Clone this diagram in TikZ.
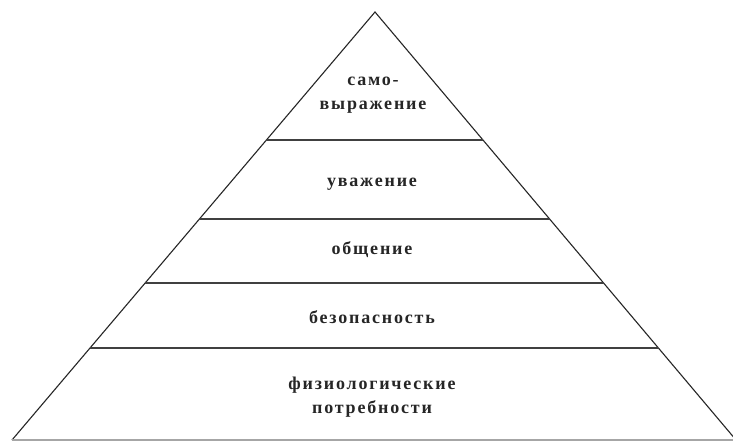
\documentclass[tikz,border=0pt]{standalone}
\usepackage{fontspec}
\newfontfamily\labfont[LetterSpace=10]{Liberation Serif}
\usetikzlibrary{calc}
\begin{document}
\begin{tikzpicture}[x=1pt,y=-1pt,
  side/.style={draw=black!85,line width=1.1pt},
  level/.style={draw=black!75,line width=1.6pt},
  base/.style={draw=black!35,line width=1.5pt},
  label/.style={font=\labfont\bfseries\fontsize{18}{24}\selectfont,text=black!85,align=center,inner sep=0pt}]
\useasboundingbox[fill=white] (0,0) rectangle (733,441);
\coordinate (apex) at (375,12);
\coordinate (bl) at (12,440);
\coordinate (br) at (736,440);
\draw[side] (bl) -- (apex) -- (br);
\draw[base] (bl) -- (br);
\foreach \t/\n in {0.299/1,0.4836/2,0.633/3,0.785/4}{
  \draw[level] ($(apex)!\t!(bl)$) -- ($(apex)!\t!(br)$);
}
\node[label] (l1) at (373,95) {само-\\выражение};
\node[label] (l2) at (372,184) {уважение};
\node[label] (l3) at (372,250) {общение};
\node[label] (l4) at (372,317) {безопасность};
\node[label] (l5) at (372,397) {физиологические\\потребности};
\end{tikzpicture}
\end{document}
